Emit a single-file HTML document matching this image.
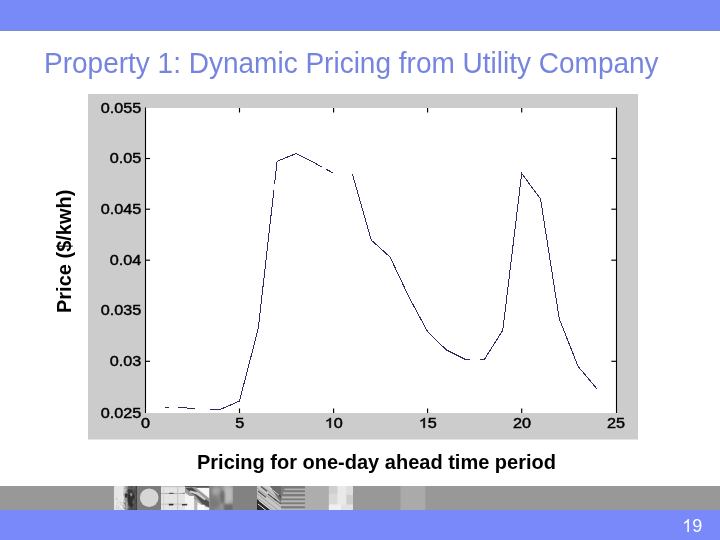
<!DOCTYPE html>
<html>
<head>
<meta charset="utf-8">
<title>Property 1: Dynamic Pricing from Utility Company</title>
<style>
html,body{margin:0;padding:0;}
body{width:720px;height:540px;overflow:hidden;background:#fff;position:relative;-webkit-font-smoothing:antialiased;font-family:"Liberation Sans",sans-serif;}
#topbar{position:absolute;left:0;top:0;width:720px;height:30px;background:#788af8;border-bottom:1px solid #7f8cd0;}
#title{position:absolute;left:44px;top:47px;font-size:28px;line-height:32px;color:#7584df;white-space:nowrap;transform-origin:0 0;transform:scaleY(1.035);}
#ylabel{position:absolute;left:52px;top:313px;font-size:20px;line-height:24px;font-weight:bold;color:#000;white-space:nowrap;transform-origin:0 0;transform:rotate(-90deg);}
#caption{position:absolute;left:196.5px;top:451px;font-size:20px;line-height:23px;font-weight:bold;color:#000;white-space:nowrap;}
#strip{position:absolute;left:0;top:486px;width:720px;height:24px;background:#989898;}
#botbar{position:absolute;left:0;top:510px;width:720px;height:30px;background:#7989f9;}
#num{position:absolute;left:682.5px;top:515.7px;font-size:18px;line-height:21px;color:#fff;}
svg{position:absolute;left:0;top:0;will-change:transform;}
#title,#ylabel,#caption,#num{will-change:transform;}
</style>
</head>
<body>
<div id="topbar"></div>
<div id="title">Property 1: Dynamic Pricing from Utility Company</div>

<svg id="chart" width="720" height="540" viewBox="0 0 720 540">
  <rect x="88" y="94" width="550" height="345.5" fill="#cccccc"/>
  <rect x="145.5" y="108.0" width="471.0" height="305.0" fill="#ffffff"/>
  <g stroke="#000" stroke-width="1.1" fill="none">
    <line x1="145.5" y1="107.5" x2="145.5" y2="413.0"/>
    <line x1="616.5" y1="107.5" x2="616.5" y2="413.0"/>
  </g>
  <g stroke="#000" stroke-width="1.15" fill="none">
    <line x1="239.5" y1="413.0" x2="239.5" y2="408.5"/><line x1="239.5" y1="108.0" x2="239.5" y2="112.5"/><line x1="333.6" y1="413.0" x2="333.6" y2="408.5"/><line x1="333.6" y1="108.0" x2="333.6" y2="112.5"/><line x1="427.6" y1="413.0" x2="427.6" y2="408.5"/><line x1="427.6" y1="108.0" x2="427.6" y2="112.5"/><line x1="521.7" y1="413.0" x2="521.7" y2="408.5"/><line x1="521.7" y1="108.0" x2="521.7" y2="112.5"/><line x1="145.5" y1="361.3" x2="150.1" y2="361.3"/><line x1="616.5" y1="361.3" x2="611.3" y2="361.3"/><line x1="145.5" y1="260.2" x2="150.1" y2="260.2"/><line x1="616.5" y1="260.2" x2="611.3" y2="260.2"/><line x1="145.5" y1="209.2" x2="150.1" y2="209.2"/><line x1="616.5" y1="209.2" x2="611.3" y2="209.2"/><line x1="145.5" y1="158.5" x2="150.1" y2="158.5"/><line x1="616.5" y1="158.5" x2="611.3" y2="158.5"/>
  </g>
  <g font-family="Liberation Sans, sans-serif" font-size="13.8" fill="#000" stroke="#000" stroke-width="0.42">
    <text transform="translate(141.2,417.8) scale(1.175,1)" text-anchor="end">0.025</text><text transform="translate(141.2,366.0) scale(1.175,1)" text-anchor="end">0.03</text><text transform="translate(141.2,314.6) scale(1.175,1)" text-anchor="end">0.035</text><text transform="translate(141.2,264.9) scale(1.175,1)" text-anchor="end">0.04</text><text transform="translate(141.2,214.3) scale(1.175,1)" text-anchor="end">0.045</text><text transform="translate(141.2,163.3) scale(1.175,1)" text-anchor="end">0.05</text><text transform="translate(141.2,112.6) scale(1.175,1)" text-anchor="end">0.055</text><text transform="translate(145.6,427.8) scale(1.175,1)" text-anchor="middle">0</text><text transform="translate(239.7,427.8) scale(1.175,1)" text-anchor="middle">5</text><g transform="translate(333.8,427.8) scale(1.175,1)"><path transform="translate(-7.67,0) scale(0.006738,-0.006738)" d="M763 0H583V1147Q518 1085 412.5 1023Q307 961 223 930V1104Q374 1175 487 1276Q600 1377 647 1472H763Z" vector-effect="non-scaling-stroke"/><text x="0" y="0" text-anchor="start">0</text></g><g transform="translate(427.8,427.8) scale(1.175,1)"><path transform="translate(-7.67,0) scale(0.006738,-0.006738)" d="M763 0H583V1147Q518 1085 412.5 1023Q307 961 223 930V1104Q374 1175 487 1276Q600 1377 647 1472H763Z" vector-effect="non-scaling-stroke"/><text x="0" y="0" text-anchor="start">5</text></g><text transform="translate(521.9,427.8) scale(1.175,1)" text-anchor="middle">20</text><text transform="translate(615.9,427.8) scale(1.175,1)" text-anchor="middle">25</text>
  </g>
  <g fill="none" stroke="#1b1b55" stroke-width="1" shape-rendering="crispEdges" opacity="0.92">
  <polyline points="164.3,407.0 169.3,407.2"/>
  <polyline points="177.7,407.5 183.1,407.7 195.0,408.7"/>
  <polyline points="210.0,409.3 220.7,409.3 239.5,401.0 258.3,328.3 273.9,189.9"/>
  <polyline points="274.6,183.7 277.1,161.3 295.9,153.6 314.7,163.0 322.2,167.1"/>
  <polyline points="325.7,169.0 333.6,173.3"/>
  <polyline points="352.4,174.0 371.2,240.0 390.0,257.0 408.8,296.7 427.6,331.7 446.4,350.0 465.2,359.3 470.0,359.5"/>
  <polyline points="479.6,359.8 484.0,360.0 502.8,330.2 521.7,173.5 540.5,198.8 559.3,319.0 578.1,366.4 596.9,388.8"/>
  </g>
</svg>

<div id="ylabel">Price ($/kwh)</div>
<div id="caption">Pricing for one-day ahead time period</div>

<div id="strip"></div>
<svg id="tiles" width="720" height="540" viewBox="0 0 720 540">
<defs>
  <filter id="b1" x="-10%" y="-10%" width="120%" height="120%"><feGaussianBlur stdDeviation="0.7"/></filter>
  <filter id="b2" x="-10%" y="-10%" width="120%" height="120%"><feGaussianBlur stdDeviation="1.1"/></filter>
  <filter id="b0" x="-10%" y="-10%" width="120%" height="120%"><feGaussianBlur stdDeviation="0.4"/></filter>
  <clipPath id="c1"><rect x="113.8" y="486" width="23.2" height="24"/></clipPath>
  <clipPath id="c3"><rect x="161" y="486" width="24" height="24"/></clipPath>
  <clipPath id="c4"><rect x="185" y="486" width="24.4" height="24"/></clipPath>
  <clipPath id="c5"><rect x="209.4" y="486" width="23.7" height="24"/></clipPath>
  <clipPath id="c7"><rect x="257" y="486" width="24" height="24"/></clipPath>
  <clipPath id="c8"><rect x="281" y="486" width="24" height="24"/></clipPath>
  <clipPath id="c10"><rect x="328.8" y="486" width="24.2" height="24"/></clipPath>
  <linearGradient id="g1" x1="0" y1="0" x2="1" y2="0">
    <stop offset="0" stop-color="#e3e3e3"/><stop offset="0.42" stop-color="#e8e8e8"/><stop offset="0.56" stop-color="#a8a8a8"/><stop offset="0.68" stop-color="#555"/><stop offset="1" stop-color="#5c5c5c"/>
  </linearGradient>
  <linearGradient id="g5" x1="0" y1="0" x2="1" y2="0">
    <stop offset="0" stop-color="#7e7e7e"/><stop offset="0.45" stop-color="#8c8c8c"/><stop offset="0.75" stop-color="#b4b4b4"/><stop offset="1" stop-color="#9a9a9a"/>
  </linearGradient>
  <filter id="nz" x="0" y="0" width="100%" height="100%">
    <feTurbulence type="fractalNoise" baseFrequency="0.45" numOctaves="2" seed="7" result="t"/>
    <feColorMatrix in="t" type="matrix" values="0 0 0 0 0  0 0 0 0 0  0 0 0 0 0  0.9 0.9 0 0 -0.62"/>
  </filter>
</defs>
<!-- tile 1: portrait -->
<g clip-path="url(#c1)">
  <rect x="113.8" y="486" width="23.2" height="24" fill="url(#g1)"/>
  <g filter="url(#b1)">
    <rect x="129" y="485" width="9" height="4.5" fill="#6c6c6c"/>
    <ellipse cx="131" cy="499" rx="3.4" ry="8" fill="#363636"/>
    <ellipse cx="129.3" cy="491.2" rx="1.9" ry="2.1" fill="#404040"/>
    <ellipse cx="126.3" cy="495.6" rx="1.7" ry="2.3" fill="#3e3e3e"/>
    <ellipse cx="131.2" cy="494.6" rx="1.3" ry="2" fill="#8c8c8c"/>
    <ellipse cx="133.6" cy="502" rx="1.2" ry="3" fill="#6a6a6a"/>
    <ellipse cx="120.5" cy="504" rx="5" ry="6.5" fill="#f6f6f6"/>
    <ellipse cx="126" cy="505" rx="1.5" ry="4.5" fill="#b4b4b4"/>
    <rect x="136" y="486" width="1.4" height="24" fill="#4c4c4c"/>
  </g>
  <rect x="123" y="486" width="14" height="24" fill="#8c8c8c" filter="url(#nz)" opacity="0.4"/>
  <rect x="116" y="498" width="10" height="12" fill="#9a9a9a" filter="url(#nz)" opacity="0.3"/>
</g>
<!-- tile 2: circle -->
<rect x="137" y="486" width="24" height="24" fill="#7c7c7c"/>
<circle cx="149.2" cy="497.7" r="9.3" fill="#d6d6d6" filter="url(#b0)"/>
<!-- tile 3: cabinets -->
<g clip-path="url(#c3)">
  <rect x="161" y="486" width="24" height="24" fill="#e4e4e4"/>
  <g filter="url(#b0)">
    <rect x="161" y="486" width="24" height="1.2" fill="#c4c4c4"/>
    <rect x="161" y="493" width="24" height="1" fill="#b2b2b2"/>
    <rect x="161" y="503.6" width="24" height="1" fill="#c0c0c0"/>
    <rect x="177.2" y="486" width="1" height="24" fill="#c2c2c2"/>
    <rect x="163.3" y="486" width="0.8" height="24" fill="#d0d0d0"/>
    <rect x="169.2" y="492.8" width="4.4" height="1.2" fill="#5a5a5a"/>
    <rect x="168.8" y="503.8" width="4.6" height="1.6" fill="#2c2c2c"/>
    <rect x="182" y="504" width="3" height="1.5" fill="#3a3a3a"/>
    <rect x="182.5" y="492.8" width="3" height="1" fill="#8a8a8a"/>
  </g>
</g>
<!-- tile 4: hands -->
<g clip-path="url(#c4)">
  <rect x="185" y="486" width="24.4" height="24" fill="#efefef"/>
  <g filter="url(#b1)">
    <rect x="185" y="485" width="25" height="2.8" fill="#555"/>
    <polygon points="185,487 195,487 210,499 210,508 203,506 185,492.5" fill="#9a9a9a"/>
    <polygon points="185.5,488 192,487.5 199,493.5 193,494.5" fill="#474747"/>
    <polygon points="192,492 198,493 209.4,502 209.4,507.5 202,503.5" fill="#505050"/>
    <polygon points="190,490.4 198,492.2 206,499 204.6,500.2 196.5,494.4 189.4,492.2" fill="#cfcfcf"/>
    <polygon points="197,488 209.4,488 209.4,497.5 203.5,492" fill="#f7f7f7"/>
    <rect x="185" y="496" width="9" height="14" fill="#f4f4f4"/>
    <rect x="194.2" y="500" width="3.2" height="10" fill="#b6b6b6"/>
    <rect x="197.6" y="505" width="7" height="5" fill="#fafafa"/>
    <rect x="185" y="503.8" width="2.2" height="1.6" fill="#444"/>
  </g>
</g>
<!-- tile 5: blurry -->
<g clip-path="url(#c5)">
  <rect x="209.4" y="486" width="23.7" height="24" fill="url(#g5)"/>
  <g filter="url(#b2)">
    <ellipse cx="216" cy="491" rx="4" ry="4" fill="#a4a4a4"/>
    <ellipse cx="222.5" cy="497" rx="2.5" ry="7" fill="#6e6e6e"/>
    <ellipse cx="214" cy="503" rx="5" ry="5" fill="#7a7a7a"/>
    <rect x="225" y="488" width="7" height="13" fill="#bcbcbc"/>
    <rect x="223.5" y="504" width="10" height="7" fill="#6c6c6c"/>
  </g>
</g>
<!-- tile 6: plain dark -->
<rect x="233.1" y="486" width="23.9" height="24" fill="#828282"/>
<!-- tile 7: diagonal stripes -->
<g clip-path="url(#c7)">
  <rect x="257" y="486" width="24" height="24" fill="#c6c6c6"/>
  <g filter="url(#b0)">
    <polygon points="270,486 282,486 282,505" fill="#6a6a6a"/>
    <polygon points="257,499 257,511 272,511" fill="#2c2c2c"/>
    <g stroke="#4a4a4a" stroke-width="1.1" fill="none">
      <line x1="261" y1="486.5" x2="267" y2="491.3"/>
      <line x1="258" y1="491" x2="266" y2="497.4"/>
      <line x1="268" y1="494" x2="276" y2="500.4"/>
      <line x1="272" y1="489.5" x2="281" y2="496.7"/>
      <line x1="274" y1="498.5" x2="281" y2="504.1"/>
    </g>
    <g stroke="#8e8e8e" stroke-width="0.7" fill="none">
      <line x1="257" y1="488" x2="281" y2="507.2"/>
      <line x1="257" y1="493.5" x2="278" y2="510.3"/>
      <line x1="257" y1="497.5" x2="273" y2="510.3"/>
      <line x1="262" y1="486" x2="281" y2="501.2"/>
    </g>
    <g stroke="#e4e4e4" stroke-width="1" fill="none">
      <line x1="259" y1="500.5" x2="271" y2="510"/>
      <line x1="258" y1="504" x2="266" y2="510.4"/>
      <line x1="270" y1="488" x2="279" y2="495.2"/>
    </g>
  </g>
</g>
<!-- tile 8: horizontal stripes -->
<g clip-path="url(#c8)">
  <rect x="281" y="486" width="24" height="24" fill="#7c7c7c"/>
  <g fill="#b6b6b6" filter="url(#b0)">
    <rect x="284.5" y="488.6" width="21" height="1.5"/>
    <rect x="283" y="492.3" width="23" height="1.6"/>
    <rect x="282" y="496.4" width="24" height="2"/>
    <rect x="281" y="500.3" width="25" height="2"/>
    <rect x="281" y="504.2" width="25" height="2"/>
    <rect x="281" y="508.4" width="25" height="1.6"/>
  </g>
</g>
<!-- tile 9: plain light -->
<rect x="305" y="486" width="23.8" height="24" fill="#adadad"/>
<!-- tile 10: light blocks -->
<g clip-path="url(#c10)">
  <rect x="328.8" y="486" width="24.2" height="24" fill="#dcdcdc"/>
  <g filter="url(#b1)">
    <rect x="328" y="486" width="9.5" height="8" fill="#cfcfcf"/>
    <rect x="328" y="494" width="9.5" height="10" fill="#d9d9d9"/>
    <rect x="337.5" y="486" width="9" height="19" fill="#e9e9e9"/>
    <rect x="346.5" y="486" width="7" height="9" fill="#dedede"/>
    <rect x="346.5" y="495" width="7" height="10" fill="#cdcdcd"/>
    <rect x="328" y="504.5" width="13" height="6" fill="#efefef"/>
    <rect x="341" y="504.5" width="12" height="6" fill="#e2e2e2"/>
  </g>
</g>
<!-- tile 11: plain light far -->
<rect x="400.5" y="486" width="24.8" height="24" fill="#aaaaaa"/>

</svg>
<div id="botbar"></div>
<svg id="numsvg" width="720" height="540" viewBox="0 0 720 540"><g fill="#fff" font-family="Liberation Sans, sans-serif" font-size="18" transform="translate(682.2,532)"><path transform="translate(0.00,0) scale(0.008789,-0.008789)" d="M763 0H583V1147Q518 1085 412.5 1023Q307 961 223 930V1104Q374 1175 487 1276Q600 1377 647 1472H763Z"/><text x="10.01" y="0">9</text></g></svg>
</body>
</html>
